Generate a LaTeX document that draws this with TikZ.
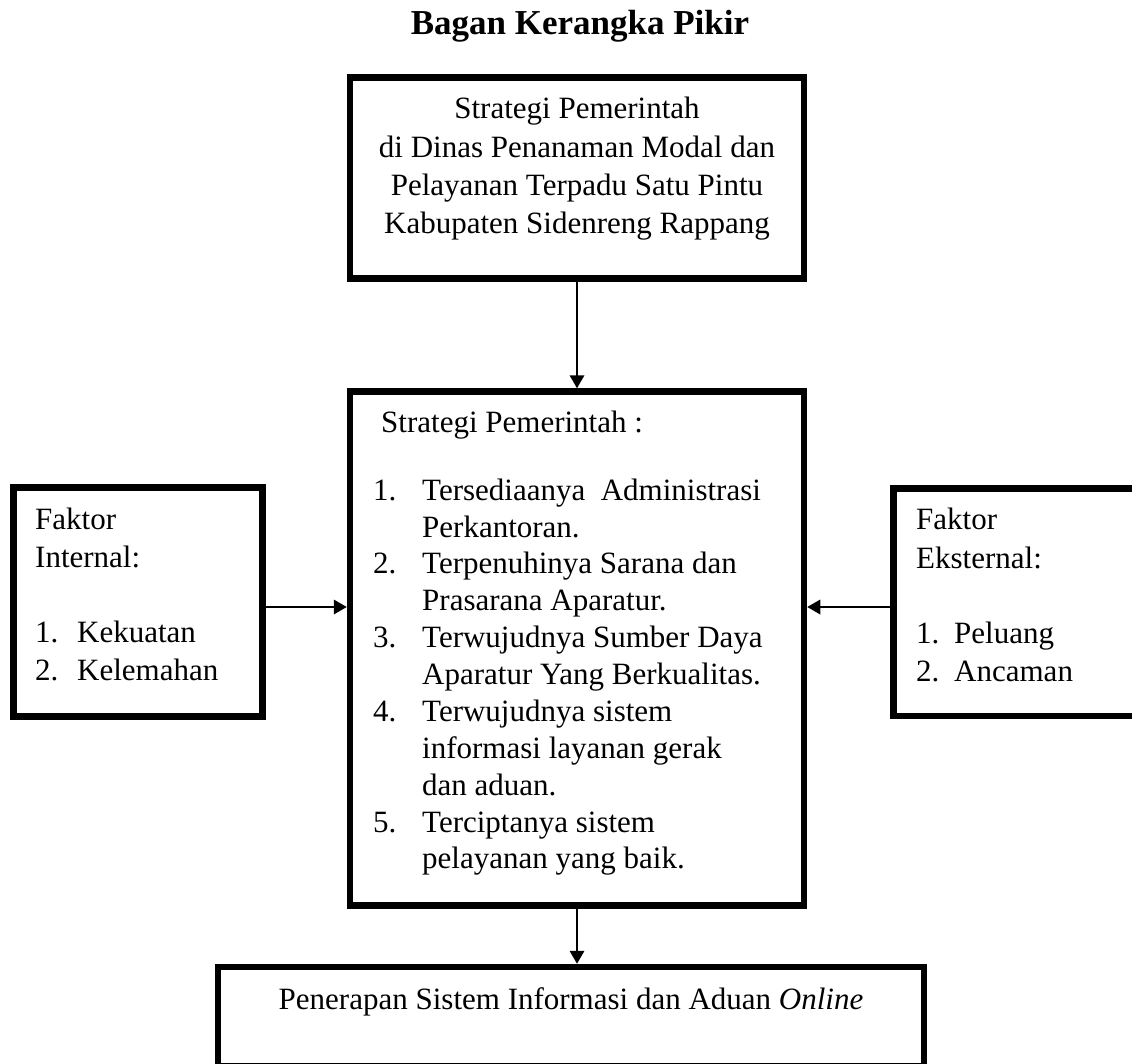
\documentclass[tikz,border=0pt]{standalone}
\usepackage{fontspec}
\setmainfont{Liberation Serif}
\usetikzlibrary{arrows.meta}
\tikzset{
  box/.style={draw=black, line width=6.5pt, inner sep=0pt, fill=none},
  conn/.style={line width=1.9pt, -{Triangle[length=13pt,width=14.5pt]}},
  txt/.style={font=\fontsize{31}{37}\selectfont, inner sep=0pt, anchor=base west},
  ctxt/.style={font=\fontsize{31}{37}\selectfont, inner sep=0pt, anchor=base},
  ttl/.style={font=\fontsize{35}{40}\selectfont\bfseries, inner sep=0pt, anchor=base}
}
\begin{document}
\begin{tikzpicture}[x=1pt,y=-1pt]
\useasboundingbox (0,0) rectangle (1132,1063);
\clip (0,0) rectangle (1132,1063);
\fill[white] (0,0) rectangle (1132,1063);

% title
\node[ttl] (title) at (580,34) {Bagan Kerangka Pikir};

% boxes
\node[box, minimum width=454pt, minimum height=201pt] (top) at (577,178) {};
\node[box, minimum width=454pt, minimum height=514pt] (mid) at (577,648.5) {};
\node[box, minimum width=249pt, minimum height=229pt] (lft) at (138,602) {};
\node[box, minimum width=251.5pt, minimum height=227.5pt] (rgt) at (1019.25,602.25) {};
\node[box, minimum width=706pt, minimum height=99.5pt] (bot) at (571,1016.75) {};

% top box text
\node[ctxt] (tp1) at (577,118) {Strategi Pemerintah};
\node[ctxt] (tp2) at (577,157) {di Dinas Penanaman Modal dan};
\node[ctxt] (tp3) at (577,195) {Pelayanan Terpadu Satu Pintu};
\node[ctxt] (tp4) at (577,233) {Kabupaten Sidenreng Rappang};

% middle box text
\node[txt] (mh) at (381,432) {Strategi Pemerintah :};
\node[txt] (mn1) at (373,500) {1.};
\node[txt] (m1a) at (422,500) {Tersediaanya\ \ Administrasi};
\node[txt] (m1b) at (422,537) {Perkantoran.};
\node[txt] (mn2) at (373,573) {2.};
\node[txt] (m2a) at (422,573) {Terpenuhinya Sarana dan};
\node[txt] (m2b) at (422,610) {Prasarana Aparatur.};
\node[txt] (mn3) at (373,647) {3.};
\node[txt] (m3a) at (422,647) {Terwujudnya Sumber Daya};
\node[txt] (m3b) at (422,684) {Aparatur Yang Berkualitas.};
\node[txt] (mn4) at (373,721) {4.};
\node[txt] (m4a) at (422,721) {Terwujudnya sistem};
\node[txt] (m4b) at (422,758) {informasi layanan gerak};
\node[txt] (m4c) at (422,795) {dan aduan.};
\node[txt] (mn5) at (373,832) {5.};
\node[txt] (m5a) at (422,832) {Terciptanya sistem};
\node[txt] (m5b) at (422,868) {pelayanan yang baik.};

% left box text
\node[txt] (l1) at (35,529) {Faktor};
\node[txt] (l2) at (35,567) {Internal:};
\node[txt] (ln1) at (35,642) {1.};
\node[txt] (l3) at (77,642) {Kekuatan};
\node[txt] (ln2) at (35,680) {2.};
\node[txt] (l4) at (77,680) {Kelemahan};

% right box text
\node[txt] (r1) at (916,529) {Faktor};
\node[txt] (r2) at (916,568) {Eksternal:};
\node[txt] (rn1) at (916,643) {1.};
\node[txt] (r3) at (954,643) {Peluang};
\node[txt] (rn2) at (916,681) {2.};
\node[txt] (r4) at (954,681) {Ancaman};

% bottom box text
\node[ctxt] (bt) at (571,1009) {Penerapan Sistem Informasi dan Aduan \textit{Online}};

% connectors
\coordinate (ya) at (0,607);
\draw[conn] (top.south) -- (mid.north);
\draw[conn] (lft.east |- ya) -- (mid.west |- ya);
\draw[conn] (rgt.west |- ya) -- (mid.east |- ya);
\draw[conn] (mid.south) -- (mid.south |- bot.north);
\end{tikzpicture}
\end{document}
